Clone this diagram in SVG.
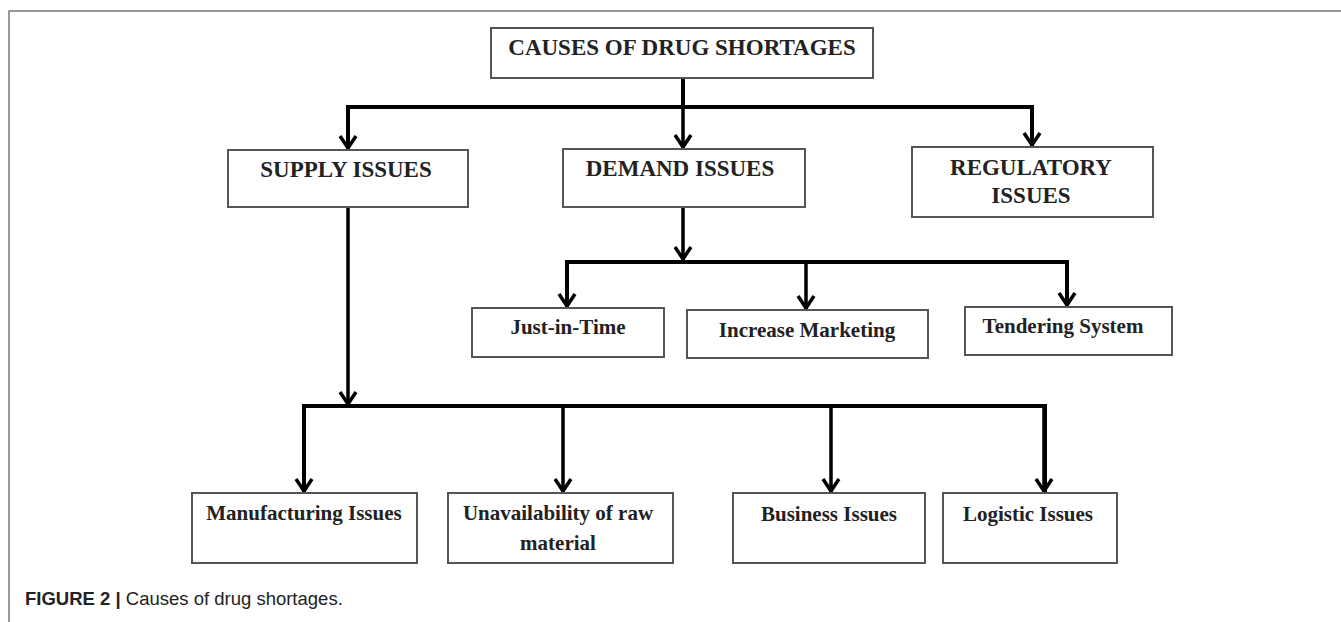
<svg xmlns="http://www.w3.org/2000/svg" width="1341" height="622" viewBox="0 0 1341 622">
<style>
.box{fill:#fff;stroke:#555;stroke-width:2}
.t{font-family:"Liberation Serif","Times New Roman",serif;font-weight:bold;fill:#222;text-anchor:middle}
.cap{font-size:23px}
.mix{font-size:21px}
.con{fill:none;stroke:#000;stroke-width:4;stroke-linejoin:miter}
.arr{fill:none;stroke:#000;stroke-width:3.5}
.frame{fill:none;stroke:#777;stroke-width:1.5}
.caption{font-family:"Liberation Sans",Arial,sans-serif;font-size:18.5px;fill:#222}
</style>
<defs>
<marker id="ah" markerUnits="userSpaceOnUse" viewBox="-16 -10 18 20" refX="0" refY="0" markerWidth="18" markerHeight="20" orient="auto" overflow="visible">
<path d="M-13,-8 L-1,0 L-13,8" fill="none" stroke="#000" stroke-width="3.5"/>
</marker>
</defs>
<rect width="1341" height="622" fill="#fff"/>
<path class="frame" d="M9,622 V11 H1341"/>
<g id="connectors">
<path class="con" d="M683,78 V107"/>
<path class="con" d="M348,148 V107 H1032 V146"/>
<path class="arr" d="M683,107 V148" marker-end="url(#ah)"/>
<path class="arr" d="M348,107 V149" marker-end="url(#ah)"/>
<path class="arr" d="M1032,107 V146" marker-end="url(#ah)"/>
<path class="arr" d="M683,207 V260" marker-end="url(#ah)"/>
<path class="con" d="M567,307 V262 H1067 V306"/>
<path class="arr" d="M567,262 V307" marker-end="url(#ah)"/>
<path class="arr" d="M806,262 V309" marker-end="url(#ah)"/>
<path class="arr" d="M1067,262 V306" marker-end="url(#ah)"/>
<path class="arr" d="M348,207 V405" marker-end="url(#ah)"/>
<path class="con" d="M304,492 V406 H1045 V492"/>
<path class="arr" d="M304,406 V492" marker-end="url(#ah)"/>
<path class="arr" d="M563,406 V492" marker-end="url(#ah)"/>
<path class="arr" d="M831,406 V492" marker-end="url(#ah)"/>
<path class="arr" d="M1044,406 V492" marker-end="url(#ah)"/>
</g>
<g id="causes">
<rect class="box" x="491" y="28" width="382" height="50"/>
<text class="t cap" x="682" y="55">CAUSES OF DRUG SHORTAGES</text>
</g>
<g id="supply">
<rect class="box" x="228" y="150" width="240" height="57"/>
<text class="t cap" x="346" y="177">SUPPLY ISSUES</text>
</g>
<g id="demand">
<rect class="box" x="563" y="149" width="242" height="58"/>
<text class="t cap" x="680" y="176">DEMAND ISSUES</text>
</g>
<g id="regulatory">
<rect class="box" x="912" y="147" width="241" height="70"/>
<text class="t cap" x="1031" y="175">REGULATORY</text>
<text class="t cap" x="1031" y="203">ISSUES</text>
</g>
<g id="jit">
<rect class="box" x="472" y="308" width="192" height="49"/>
<text class="t mix" x="568" y="334">Just-in-Time</text>
</g>
<g id="marketing">
<rect class="box" x="687" y="310" width="241" height="48"/>
<text class="t mix" x="807" y="337">Increase Marketing</text>
</g>
<g id="tendering">
<rect class="box" x="965" y="307" width="207" height="48"/>
<text class="t mix" x="1063" y="333">Tendering System</text>
</g>
<g id="manufacturing">
<rect class="box" x="192" y="493" width="225" height="70"/>
<text class="t mix" x="304" y="520">Manufacturing Issues</text>
</g>
<g id="rawmaterial">
<rect class="box" x="448" y="493" width="225" height="70"/>
<text class="t mix" x="558" y="520">Unavailability of raw</text>
<text class="t mix" x="558" y="550">material</text>
</g>
<g id="business">
<rect class="box" x="733" y="493" width="192" height="70"/>
<text class="t mix" x="829" y="521">Business Issues</text>
</g>
<g id="logistic">
<rect class="box" x="943" y="493" width="174" height="70"/>
<text class="t mix" x="1028" y="521">Logistic Issues</text>
</g>
<text class="caption" x="25" y="605"><tspan font-weight="bold">FIGURE 2 |</tspan> Causes of drug shortages.</text>
</svg>
